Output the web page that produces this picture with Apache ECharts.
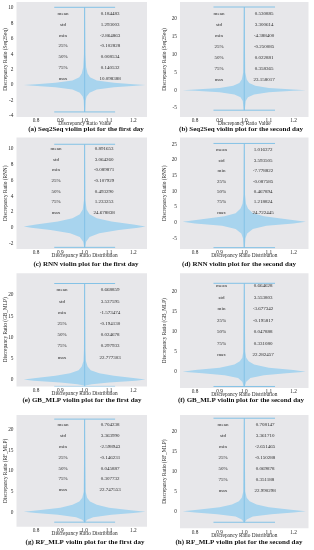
<!DOCTYPE html>
<html><head><meta charset="utf-8">
<script src="https://cdn.jsdelivr.net/npm/echarts@6/dist/echarts.min.js"></script>
<style>html,body{margin:0;padding:0;background:#fff}#c{width:314px;height:550px}</style>
</head><body><div id="c"></div>
<script>
// ---------- data ----------
const statNames = ['mean', 'std', 'min', '25%', '50%', '75%', 'max'];
const statsA = ['0.184483', '1.293003', '-2.864863', '-0.102828', '0.008534', '0.140532', '10.098388'];
const statsB = ['0.530885', '3.300614', '-4.388400', '-0.250085', '0.022881', '0.358365', '23.158017'];
const statsC = ['0.891653', '3.064260', '-0.089871', '-0.107929', '0.493290', '1.233253', '24.678838'];
const statsD = ['1.016372', '3.593505', '-7.778822', '-0.087585', '0.467894', '1.218824', '24.722445'];
const statsE = ['0.668859', '3.537595', '-1.573474', '-0.194130', '0.024678', '0.297933', '22.777303'];
const statsF = ['0.664628', '3.553803', '-3.677342', '-0.195817', '0.047888', '0.331080', '22.282457'];
const statsG = ['0.704238', '3.363990', '-2.598943', '-0.146231', '0.045887', '0.307732', '22.747553'];
const statsH = ['0.708147', '3.361710', '-2.651465', '-0.150288', '0.069878', '0.351188', '22.990298'];

const captions = [
  '(a) Seq2Seq violin plot for the first day', '(b) Seq2Seq violin plot for the second day',
  '(c) RNN violin plot for the first day', '(d) RNN violin plot for the second day',
  '(e) GB_MLP violin plot for the first day', '(f) GB_MLP violin plot for the second day',
  '(g) RF_MLP violin plot for the first day', '(h) RF_MLP violin plot for the second day'
];
const yNames = [
  'Discrepancy Ratio (Seq2Seq)', 'Discrepancy Ratio (Seq2Seq)',
  'Discrepancy Ratio (RNN)', 'Discrepancy Ratio (RNN)',
  'Discrepancy Ratio (GB_MLP)', 'Discrepancy Ratio (GB_MLP)',
  'Discrepancy Ratio (RF_MLP)', 'Discrepancy Ratio (RF_MLP)'
];
const xNames = [
  'Discrepancy Ratio Value', 'Discrepancy Ratio Value',
  'Discrepancy Ratio Distribution', 'Discrepancy Ratio Distribution',
  'Discrepancy Ratio Distribution', 'Discrepancy Ratio Distribution',
  'Discrepancy Ratio Distribution', 'Discrepancy Ratio Distribution'
];
const xTicks = [0.8, 0.9, 1.0, 1.1, 1.2];
const yTicksA = [-4, -2, 0, 2, 4, 6, 8, 10];
const yTicksB = [-5, 0, 5, 10, 15, 20];
const yTicksC = [-2, 0, 2, 4, 6, 8, 10];
const yTicksD = [-5, 0, 5, 10, 15, 20, 25];
const yTicksE = [0, 5, 10, 15, 20];
const yTicksF = [0, 5, 10, 15, 20];
const yTicksG = [0, 5, 10, 15, 20];
const yTicksH = [0, 5, 10, 15, 20];

// violin outlines: value (y) and half width (in x units)
const violinYA = [-3.5, -2, -1.5, -1.0, -0.6, -0.3, -0.1, 0, 0.1, 0.3, 0.6, 1.0, 1.5, 2.3, 4, 10.1];
const violinWA = [0.002, 0.004, 0.008, 0.02, 0.05, 0.12, 0.21, 0.25, 0.2, 0.12, 0.05, 0.022, 0.012, 0.006, 0.003, 0.001];
const violinYB = [-5.6, -3, -2, -1.2, -0.6, -0.2, 0, 0.2, 0.6, 1.2, 2, 3, 5, 23.2];
const violinWB = [0.002, 0.006, 0.015, 0.04, 0.1, 0.2, 0.25, 0.2, 0.1, 0.045, 0.02, 0.01, 0.004, 0.001];
const violinYC = [-2.5, -1.8, -1.2, -0.7, -0.3, 0, 0.15, 0.4, 0.8, 1.2, 1.7, 2.3, 3.5, 10.6];
const violinWC = [0.002, 0.006, 0.02, 0.06, 0.14, 0.22, 0.25, 0.2, 0.11, 0.05, 0.02, 0.008, 0.003, 0.001];
const violinYD = [-8, -5, -3.5, -2, -1, -0.3, 0.3, 1, 2, 3, 4.5, 6, 9, 25.3];
const violinWD = [0.002, 0.005, 0.012, 0.035, 0.09, 0.2, 0.25, 0.18, 0.08, 0.035, 0.015, 0.007, 0.003, 0.001];
const violinYE = [-1.3, -1.0, -0.6, -0.2, 0.1, 0.5, 1.0, 1.6, 2.3, 3.2, 4.5, 7, 22.7];
const violinWE = [0.003, 0.03, 0.1, 0.21, 0.25, 0.2, 0.12, 0.06, 0.025, 0.012, 0.005, 0.003, 0.001];
const violinYF = [-3.7, -2.5, -1.6, -0.9, -0.4, 0, 0.4, 1, 1.8, 2.6, 3.5, 5, 22.1];
const violinWF = [0.002, 0.008, 0.025, 0.08, 0.17, 0.25, 0.2, 0.1, 0.04, 0.018, 0.008, 0.004, 0.001];
const violinYG = [-2.4, -1.8, -1.2, -0.6, -0.2, 0.1, 0.5, 1.1, 1.8, 2.6, 3.5, 5, 22.6];
const violinWG = [0.002, 0.01, 0.035, 0.11, 0.2, 0.25, 0.19, 0.1, 0.05, 0.022, 0.01, 0.004, 0.001];
const violinYH = [-2.6, -1.9, -1.2, -0.6, -0.2, 0.1, 0.5, 1.1, 1.8, 2.6, 3.5, 5, 23.2];
const violinWH = [0.002, 0.01, 0.035, 0.11, 0.2, 0.25, 0.19, 0.1, 0.05, 0.022, 0.01, 0.004, 0.001];
const extremaA = [-3.5, 10.1];
const extremaB = [-5.6, 23.2];
const extremaC = [-2.5, 10.6];
const extremaD = [-8.0, 25.3];
const extremaE = [-1.5, 22.7];
const extremaF = [-3.7, 22.1];
const extremaG = [-2.4, 22.6];
const extremaH = [-2.6, 23.2];

// ---------- layout ----------
const stats = [statsA, statsB, statsC, statsD, statsE, statsF, statsG, statsH];
const yTicks = [yTicksA, yTicksB, yTicksC, yTicksD, yTicksE, yTicksF, yTicksG, yTicksH];
const vY = [violinYA, violinYB, violinYC, violinYD, violinYE, violinYF, violinYG, violinYH];
const vW = [violinWA, violinWB, violinWC, violinWD, violinWE, violinWF, violinWG, violinWH];
const ext = [extremaA, extremaB, extremaC, extremaD, extremaE, extremaF, extremaG, extremaH];

const layout = [
  {l: 16.5, t: 2, w: 130.5, h: 115, ymin: -4.16, ymax: 10.79, xr: [0.72, 1.256], tt: 13.3, tg: 10.95, nx: 63, vx: 110, cap: 129, capx: 86, yn: 5.5},
  {l: 180, t: 2, w: 128.5, h: 115, ymin: -7.5, ymax: 24.6, xr: [0.739, 1.261], tt: 14, tg: 11.0, nx: 219, vx: 264, cap: 129, capx: 241, yn: 165},
  {l: 16.5, t: 137.5, w: 130.5, h: 111.5, ymin: -2.71, ymax: 11.46, xr: [0.72, 1.256], tt: 149, tg: 10.55, nx: 56, vx: 104, cap: 264, capx: 86, yn: 5.5},
  {l: 180, t: 137.5, w: 128.5, h: 111.5, ymin: -8.43, ymax: 27.2, xr: [0.739, 1.261], tt: 150, tg: 10.4, nx: 221.5, vx: 263, cap: 264, capx: 239, yn: 165},
  {l: 16.5, t: 273.3, w: 130.5, h: 113.1, ymin: -1.5, ymax: 25.1, xr: [0.72, 1.256], tt: 290, tg: 11.2, nx: 62, vx: 110, cap: 400, capx: 82, yn: 5.5},
  {l: 180, t: 273.3, w: 128.5, h: 114.7, ymin: -4.08, ymax: 24.6, xr: [0.739, 1.261], tt: 286, tg: 11.5, nx: 221.5, vx: 263, cap: 400, capx: 241, yn: 165},
  {l: 16.5, t: 415, w: 130.5, h: 111.7, ymin: -3.5, ymax: 23.6, xr: [0.72, 1.256], tt: 425, tg: 10.83, nx: 63, vx: 110, cap: 542, capx: 85, yn: 5.5},
  {l: 180, t: 415, w: 128.5, h: 113.3, ymin: -4.1, ymax: 24.0, xr: [0.739, 1.261], tt: 425, tg: 11.0, nx: 223, vx: 265, cap: 542, capx: 239, yn: 165}
];

const SERIF = 'Liberation Serif';
const BODY = '#a8d4ee';
const LINE = '#84c2e6';
const BG = '#e7e7ea';
const TXT = '#2a2a2a';

function makeRender(ys, ws, ex) {
  return function (params, api) {
    const left = [], right = [];
    for (let i = 0; i < ys.length; i++) {
      left.push(api.coord([1 - ws[i], ys[i]]));
      right.push(api.coord([1 + ws[i], ys[i]]));
    }
    const pts = left.concat(right.reverse());
    const b0 = api.coord([1, ex[0]]), b1 = api.coord([1, ex[1]]);
    const m0a = api.coord([0.875, ex[0]]), m0b = api.coord([1.125, ex[0]]);
    const m1a = api.coord([0.875, ex[1]]), m1b = api.coord([1.125, ex[1]]);
    const ls = {stroke: LINE, lineWidth: 1};
    return {
      type: 'group',
      children: [
        {type: 'polygon', shape: {points: pts}, style: {fill: BODY}},
        {type: 'line', shape: {x1: b0[0], y1: b0[1], x2: b1[0], y2: b1[1]}, style: ls},
        {type: 'line', shape: {x1: m0a[0], y1: m0a[1], x2: m0b[0], y2: m0b[1]}, style: ls},
        {type: 'line', shape: {x1: m1a[0], y1: m1a[1], x2: m1b[0], y2: m1b[1]}, style: ls}
      ]
    };
  };
}

const grid = [], xAxis = [], yAxis = [], series = [], graphic = [];
layout.forEach(function (L, i) {
  grid.push({left: L.l, top: L.t, width: L.w, height: L.h, show: true, backgroundColor: BG, borderWidth: 0, containLabel: false});
  xAxis.push({
    type: 'value', gridIndex: i, min: L.xr[0], max: L.xr[1],
    axisLine: {show: false}, axisTick: {show: false}, splitLine: {show: false},
    axisLabel: {customValues: xTicks, formatter: function (v) { return v.toFixed(1); }, fontFamily: SERIF, fontSize: 5.3, color: TXT, margin: 1.5}
  });
  yAxis.push({
    type: 'value', gridIndex: i, min: L.ymin, max: L.ymax,
    axisLine: {show: false}, axisTick: {show: false}, splitLine: {show: false},
    axisLabel: {customValues: yTicks[i], fontFamily: SERIF, fontSize: 5.3, color: TXT, margin: 3}
  });
  series.push({
    type: 'custom', xAxisIndex: i, yAxisIndex: i, data: [[1, 0]], clip: true, silent: true,
    renderItem: makeRender(vY[i], vW[i], ext[i])
  });
  // table
  for (let r = 0; r < statNames.length; r++) {
    const y = L.tt + r * L.tg;
    graphic.push({type: 'text', x: L.nx, y: y, z: 10, style: {text: statNames[r], font: '5px "' + SERIF + '"', fill: TXT, align: 'center', verticalAlign: 'middle'}});
    graphic.push({type: 'text', x: L.vx, y: y, z: 10, style: {text: stats[i][r], font: '5px "' + SERIF + '"', fill: TXT, align: 'center', verticalAlign: 'middle'}});
  }
  // x-axis name (centred under the violin position)
  const xCentre = L.l + (1 - L.xr[0]) / (L.xr[1] - L.xr[0]) * L.w;
  graphic.push({type: 'text', x: xCentre, y: L.t + L.h + 7, z: 10, style: {text: xNames[i], font: '5.3px "' + SERIF + '"', fill: TXT, align: 'center', verticalAlign: 'middle'}});
  // y-axis name
  graphic.push({type: 'text', x: L.yn, y: L.t + L.h / 2, rotation: Math.PI / 2, z: 10, style: {text: yNames[i], font: '5.3px "' + SERIF + '"', fill: TXT, align: 'center', verticalAlign: 'middle'}});
  // caption
  graphic.push({type: 'text', x: L.capx, y: L.cap, z: 10, style: {text: captions[i], font: 'bold 7px "' + SERIF + '"', fill: '#111', align: 'center', verticalAlign: 'middle'}});
});

const chart = echarts.init(document.getElementById('c'), null, {renderer: 'canvas'});
chart.setOption({animation: false, backgroundColor: '#fff', grid: grid, xAxis: xAxis, yAxis: yAxis, series: series, graphic: graphic});
</script>
</body></html>
